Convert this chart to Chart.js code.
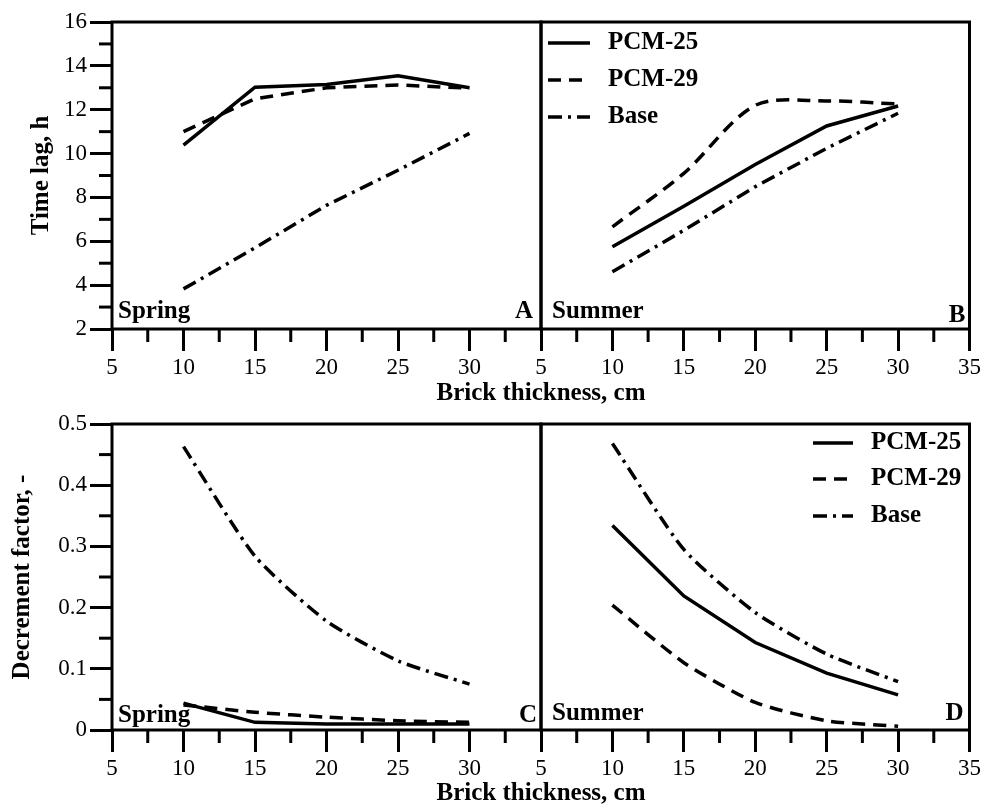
<!DOCTYPE html>
<html><head><meta charset="utf-8">
<script src="https://cdn.jsdelivr.net/npm/chart.js@4/dist/chart.umd.min.js"></script>
<style>
html,body{margin:0;padding:0;background:#fff;}
#wrap{position:relative;width:984px;height:809px;background:#fff;}
canvas{position:absolute;left:0;top:0;}
</style></head><body>
<div id="wrap">
<canvas id="cA" width="984" height="809"></canvas>
<canvas id="cB" width="984" height="809"></canvas>
<canvas id="cC" width="984" height="809"></canvas>
<canvas id="cD" width="984" height="809"></canvas>
</div>
<script>
// ---- data ----
const thickness = [10, 15, 20, 25, 30];
const seriesNames = ['PCM-25', 'PCM-29', 'Base'];
const lagSpringPCM25 = [10.39, 13.03, 13.15, 13.55, 13.0];
const lagSpringPCM29 = [11.0, 12.5, 13.0, 13.13, 12.98];
const lagSpringBase  = [3.83, 5.7, 7.64, 9.24, 10.92];
const lagSummerPCM25 = [5.75, 7.6, 9.5, 11.26, 12.17];
const lagSummerPCM29 = [6.66, 9.1, 12.2, 12.4, 12.26];
const lagSummerBase  = [4.61, 6.5, 8.49, 10.24, 11.84];
const decSpringPCM25 = [0.044, 0.0125, 0.01, 0.01, 0.01];
const decSpringPCM29 = [0.041, 0.029, 0.021, 0.015, 0.0125];
const decSpringBase  = [0.463, 0.284, 0.178, 0.113, 0.075];
const decSummerPCM25 = [0.334, 0.219, 0.143, 0.093, 0.0575];
const decSummerPCM29 = [0.204, 0.110, 0.045, 0.015, 0.006];
const decSummerBase  = [0.468, 0.295, 0.192, 0.124, 0.079];
const xTickLabels   = ['5', '10', '15', '20', '25', '30', '35'];
const lagTickLabels = ['2', '4', '6', '8', '10', '12', '14', '16'];
const decTickLabels = ['0', '0.1', '0.2', '0.3', '0.4', '0.5'];
const xTitle = 'Brick thickness, cm';
const lagTitle = 'Time lag, h';
const decTitle = 'Decrement factor, -';

// ---- styles ----
const FONT = '"Liberation Serif", "Times New Roman", serif';
const LINE_W = 3.5;
const lineStyles = [
  { borderDash: [] },
  { borderDash: [13, 8] },
  { borderDash: [14, 6, 3, 6] }
];

const isMajorX = v => Math.abs(v / 5 - Math.round(v / 5)) < 1e-6;
const isMajorLag = v => Math.abs(v / 2 - Math.round(v / 2)) < 1e-6;
const isMajorDec = v => Math.abs(v * 10 - Math.round(v * 10)) < 1e-6;

const panels = {
  cA: { left: 112, right: 541, top: 22, bottom: 329, kind: 'lag', showY: true, yScaleLeft: 27, hideLastX: true,
        series: [lagSpringPCM25, lagSpringPCM29, lagSpringBase], tensions: [0, 0, 0],
        season: 'Spring', sx: 6, sy: 11, corner: 'A', cx: 8, cy: 11, xTitleY: 400 },
  cB: { left: 541, right: 971, top: 22, bottom: 329, kind: 'lag', showY: false, hideLastX: false,
        series: [lagSummerPCM25, lagSummerPCM29, lagSummerBase], tensions: [0, 0.3, 0],
        season: 'Summer', sx: 11, sy: 11, corner: 'B', cx: 4, cy: 7,
        legend: { x0: 548, x1: 590, xt: 608, ys: [43, 80, 117] } },
  cC: { left: 112, right: 541, top: 424, bottom: 730, kind: 'dec', showY: true, yScaleLeft: 8, hideLastX: true,
        series: [decSpringPCM25, decSpringPCM29, decSpringBase], tensions: [0, 0.2, 0.2],
        season: 'Spring', sx: 6, sy: 8, corner: 'C', cx: 4, cy: 8, xTitleY: 800 },
  cD: { left: 541, right: 971, top: 424, bottom: 730, kind: 'dec', showY: false, hideLastX: false,
        series: [decSummerPCM25, decSummerPCM29, decSummerBase], tensions: [0, 0.2, 0.2],
        season: 'Summer', sx: 11, sy: 10, corner: 'D', cx: 6, cy: 10,
        legend: { x0: 813, x1: 853, xt: 871, ys: [443, 479, 516] } }
};

const deco = {
  id: 'deco',
  afterDraw(chart) {
    const p = panels[chart.canvas.id];
    const { ctx, chartArea: a } = chart;
    const isMajorY = p.kind === 'lag' ? isMajorLag : isMajorDec;
    ctx.save();
    ctx.strokeStyle = '#000';
    ctx.fillStyle = '#000';
    ctx.lineWidth = 3;
    ctx.setLineDash([]);
    // minor ticks
    const xs = chart.scales.x;
    xs.ticks.forEach(t => {
      if (!isMajorX(t.value)) {
        const px = xs.getPixelForValue(t.value);
        ctx.beginPath(); ctx.moveTo(px, a.bottom); ctx.lineTo(px, a.bottom + 13); ctx.stroke();
      }
    });
    if (p.showY) {
      const ys = chart.scales.y;
      ys.ticks.forEach(t => {
        if (!isMajorY(t.value)) {
          const py = ys.getPixelForValue(t.value);
          ctx.beginPath(); ctx.moveTo(a.left - 13, py); ctx.lineTo(a.left, py); ctx.stroke();
        }
      });
    }
    // frame
    ctx.strokeRect(a.left, a.top, a.right - a.left, a.bottom - a.top);
    // panel labels
    ctx.font = 'bold 25px ' + FONT;
    ctx.textBaseline = 'alphabetic';
    ctx.textAlign = 'left';
    ctx.fillText(p.season, a.left + p.sx, a.bottom - p.sy);
    ctx.textAlign = 'right';
    ctx.fillText(p.corner, a.right - p.cx, a.bottom - p.cy);
    // legend
    if (p.legend) {
      const L = p.legend;
      chart.data.datasets.forEach((ds, i) => {
        const y = L.ys[i];
        ctx.save();
        ctx.lineWidth = ds.borderWidth;
        ctx.setLineDash(ds.borderDash || []);
        ctx.beginPath(); ctx.moveTo(L.x0, y); ctx.lineTo(L.x1, y); ctx.stroke();
        ctx.restore();
        ctx.font = 'bold 25px ' + FONT;
        ctx.textAlign = 'left';
        ctx.textBaseline = 'middle';
        ctx.fillText(ds.label, L.xt, y);
      });
    }
    // shared x-axis title
    if (p.xTitleY) {
      ctx.font = 'bold 25px ' + FONT;
      ctx.textAlign = 'center';
      ctx.textBaseline = 'alphabetic';
      ctx.fillText(xTitle, a.right, p.xTitleY);
    }
    ctx.restore();
  }
};

function makePanel(id) {
  const p = panels[id];
  const isLag = p.kind === 'lag';
  const isMajorY = isLag ? isMajorLag : isMajorDec;
  const yWidth = p.showY ? p.left - p.yScaleLeft : 0;
  const datasets = p.series.map((vals, i) => ({
    label: seriesNames[i],
    data: thickness.map((t, j) => ({ x: t, y: vals[j] })),
    borderColor: '#000',
    borderWidth: LINE_W,
    borderDash: lineStyles[i].borderDash,
    tension: p.tensions[i],
    pointRadius: 0,
    fill: false
  }));
  new Chart(document.getElementById(id), {
    type: 'line',
    data: { datasets },
    options: {
      responsive: false,
      animation: false,
      devicePixelRatio: 1,
      layout: { padding: { left: p.left - yWidth, right: 984 - p.right, top: p.top, bottom: 809 - p.bottom - 60 } },
      plugins: { legend: { display: false }, tooltip: { enabled: false } },
      scales: {
        x: {
          type: 'linear', min: 5, max: 35,
          ticks: {
            stepSize: 2.5, autoSkip: false, maxRotation: 0, minRotation: 0, padding: 3,
            color: '#000', font: { family: FONT, size: 23 },
            callback: (v) => {
              if (!isMajorX(v)) return '';
              const k = Math.round((v - 5) / 5);
              if (p.hideLastX && k === xTickLabels.length - 1) return '';
              return xTickLabels[k];
            }
          },
          grid: {
            drawOnChartArea: false, drawTicks: true, tickLength: 22, tickWidth: 3,
            tickColor: c => (c.tick && isMajorX(c.tick.value)) ? '#000' : 'rgba(0,0,0,0)'
          },
          border: { display: false },
          afterFit: s => { s.height = 60; }
        },
        y: {
          type: 'linear', display: p.showY,
          min: isLag ? 2 : 0, max: isLag ? 16 : 0.5,
          ticks: {
            stepSize: isLag ? 1 : 0.05, autoSkip: false, padding: 3,
            color: '#000', font: { family: FONT, size: 23 },
            callback: (v) => {
              if (!isMajorY(v)) return '';
              return isLag ? lagTickLabels[Math.round((v - 2) / 2)] : decTickLabels[Math.round(v * 10)];
            }
          },
          grid: {
            drawOnChartArea: false, drawTicks: true, tickLength: 22, tickWidth: 3,
            tickColor: c => (c.tick && isMajorY(c.tick.value)) ? '#000' : 'rgba(0,0,0,0)'
          },
          border: { display: false },
          title: {
            display: true, text: isLag ? lagTitle : decTitle, color: '#000',
            font: { family: FONT, size: 25, weight: 'bold' }, padding: 0
          },
          afterFit: s => { s.width = yWidth; }
        }
      }
    },
    plugins: [deco]
  });
}
['cA', 'cB', 'cC', 'cD'].forEach(makePanel);
</script>
</body></html>
